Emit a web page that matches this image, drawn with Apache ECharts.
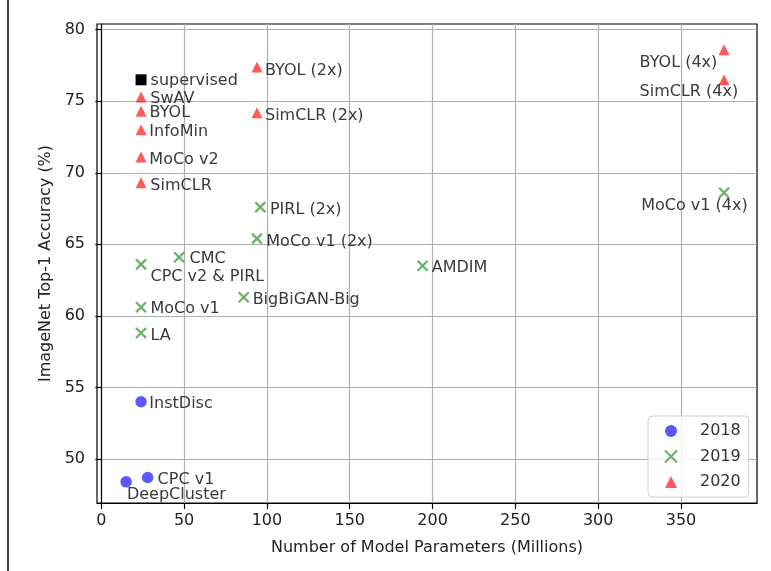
<!DOCTYPE html>
<html>
<head>
<meta charset="utf-8">
<script src="https://cdn.jsdelivr.net/npm/echarts@6/dist/echarts.min.js"></script>
<style>
html,body{margin:0;padding:0;background:#fff;}
#chart{width:771px;height:571px;}
</style>
</head>
<body>
<div id="chart"></div>
<script>
// ---- data ----
const xTicks = [0, 50, 100, 150, 200, 250, 300, 350];
const yTicks = [50, 55, 60, 65, 70, 75, 80];

const names2018 = ['InstDisc', 'CPC v1', 'DeepCluster'];
const params2018 = [24, 28, 15];
const acc2018 = [54.0, 48.7, 48.4];

const names2019 = ['PIRL (2x)', 'MoCo v1 (2x)', 'CMC', 'CPC v2 & PIRL', 'BigBiGAN-Big', 'MoCo v1', 'LA', 'AMDIM', 'MoCo v1 (4x)'];
const params2019 = [96, 94, 47, 24, 86, 24, 24, 194, 376];
const acc2019 = [67.6, 65.4, 64.1, 63.6, 61.3, 60.6, 58.8, 63.5, 68.6];

const names2020 = ['SwAV', 'BYOL', 'InfoMin', 'MoCo v2', 'SimCLR', 'BYOL (2x)', 'SimCLR (2x)', 'BYOL (4x)', 'SimCLR (4x)'];
const params2020 = [24, 24, 24, 24, 24, 94, 94, 376, 376];
const acc2020 = [75.3, 74.3, 73.0, 71.1, 69.3, 77.4, 74.2, 78.6, 76.5];

const namesSup = ['supervised'];
const paramsSup = [24];
const accSup = [76.5];

// ---- label placement (style, pixels) ----
const labelShift = {
  'supervised': [9.5, 0], 'SwAV': [9.3, 0], 'BYOL': [8.5, 0], 'InfoMin': [8.3, 0.5],
  'MoCo v2': [8.3, 1], 'SimCLR': [9.3, 1.3], 'BYOL (2x)': [8, 2], 'SimCLR (2x)': [8, 1.8],
  'BYOL (4x)': [-84.5, 11.3], 'SimCLR (4x)': [-84.5, 11], 'MoCo v1 (4x)': [-84, 11.2],
  'PIRL (2x)': [8.5, 1.5], 'MoCo v1 (2x)': [8.2, 2], 'CMC': [9.3, 0], 'CPC v2 & PIRL': [8.3, 10.5],
  'BigBiGAN-Big': [7.8, 0.7], 'MoCo v1': [8.3, 0.5], 'LA': [8.3, 1], 'AMDIM': [8, 1],
  'InstDisc': [8.3, 0.3], 'CPC v1': [9.9, 0.8], 'DeepCluster': [0.8, 11.4]
};
const labelLift = 1.5;

const FONT = 'DejaVu Sans';
const TXT = '#3a3a3a';

function build(names, xs, ys, size) {
  return names.map((n, i) => {
    const s = labelShift[n] || [8.5, 1];
    return {
      name: n,
      value: [xs[i], ys[i]],
      label: { offset: [s[0] - size / 2, s[1] + labelLift] }
    };
  });
}

const baseLabel = {
  show: true, position: 'right', distance: 0,
  formatter: p => p.name, color: TXT, fontSize: 16, fontFamily: FONT
};

const chart = echarts.init(document.getElementById('chart'), null, { renderer: 'canvas' });

const axisText = { color: '#222', fontSize: 16, fontFamily: FONT };

chart.setOption({
  animation: false,
  backgroundColor: '#fff',
  graphic: [{
    type: 'line', shape: { x1: 8, y1: 0, x2: 8, y2: 571 },
    style: { stroke: '#000', lineWidth: 1.5 }
  }],
  grid: {
    left: 97, right: 14, top: 24, bottom: 68,
    show: true, borderColor: '#000', borderWidth: 1.2, backgroundColor: 'transparent'
  },
  xAxis: {
    type: 'value', min: -2.6, max: 395.9,
    name: 'Number of Model Parameters (Millions)', nameLocation: 'middle', nameGap: 37,
    nameTextStyle: axisText,
    axisLine: { show: true, lineStyle: { color: '#000', width: 1.2 } },
    axisTick: { show: true, inside: false, length: 6, customValues: xTicks, lineStyle: { color: '#000', width: 1.2 } },
    axisLabel: { customValues: xTicks, margin: 10, ...axisText },
    splitLine: { show: true, lineStyle: { color: '#b0b0b0', width: 1.2 } }
  },
  yAxis: {
    type: 'value', min: 46.92, max: 80.4,
    name: 'ImageNet Top-1 Accuracy (%)', nameLocation: 'middle', nameGap: 39,
    nameTextStyle: axisText,
    axisLine: { show: true, lineStyle: { color: '#000', width: 1.2 } },
    axisTick: { show: true, inside: false, length: 6, customValues: yTicks, lineStyle: { color: '#000', width: 1.2 } },
    axisLabel: { customValues: yTicks, margin: 12, ...axisText },
    splitLine: { show: true, lineStyle: { color: '#b0b0b0', width: 1.2 } }
  },
  legend: {
    data: ['2018', '2019', '2020'],
    orient: 'vertical', left: 648, top: 416,
    padding: [7, 8, 7, 16], itemGap: 9.5,
    itemWidth: 12, itemHeight: 12,
    backgroundColor: 'rgba(255,255,255,0.8)',
    borderColor: '#d0d0d0', borderWidth: 1, borderRadius: 4,
    textStyle: { color: '#333', fontSize: 16, fontFamily: FONT, padding: [0, 0, 0, 18] }
  },
  series: [
    {
      name: '2018', type: 'scatter', symbol: 'circle', symbolSize: 11.5,
      itemStyle: { color: 'rgba(0,0,255,0.65)', opacity: 1 },
      label: baseLabel,
      data: build(names2018, params2018, acc2018, 11.5)
    },
    {
      name: '2019', type: 'scatter', symbol: 'path://M0,0L10,10M10,0L0,10', symbolSize: 10,
      itemStyle: { color: 'rgba(0,128,0,0.6)', borderColor: 'rgba(0,128,0,0.6)', borderWidth: 2.2, opacity: 1 },
      label: baseLabel,
      data: build(names2019, params2019, acc2019, 10)
    },
    {
      name: '2020', type: 'scatter', symbol: 'triangle', symbolSize: 11,
      itemStyle: { color: 'rgba(255,0,0,0.65)', opacity: 1 },
      label: baseLabel,
      data: build(names2020, params2020, acc2020, 11)
    },
    {
      name: 'supervised', type: 'scatter', symbol: 'rect', symbolSize: 11,
      itemStyle: { color: '#000', opacity: 1 },
      label: baseLabel,
      data: build(namesSup, paramsSup, accSup, 11)
    }
  ]
});
</script>
</body>
</html>
